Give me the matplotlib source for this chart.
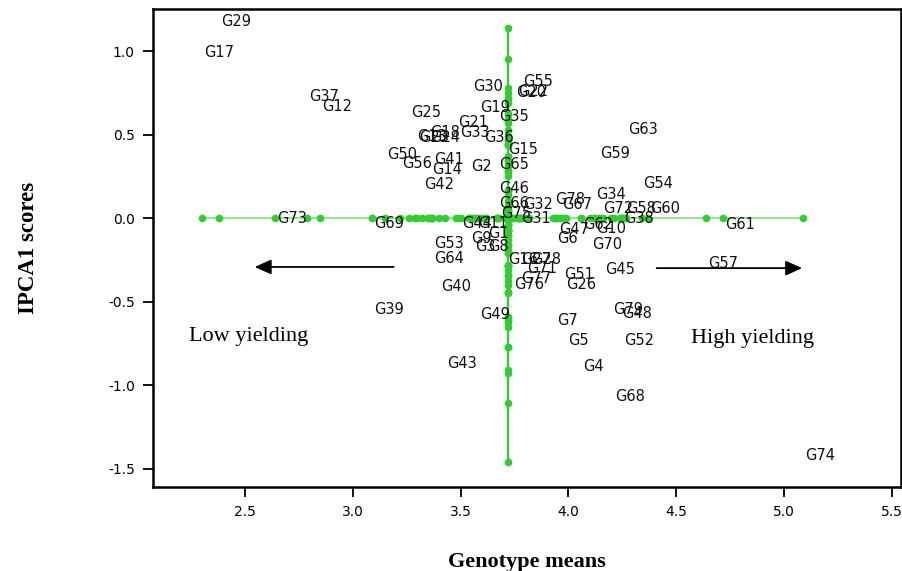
import matplotlib
matplotlib.use("Agg")
import matplotlib.pyplot as plt
import numpy as np

# ---- data -------------------------------------------------------------
genotypes = ["G1", "G2", "G3", "G4", "G5", "G6", "G7", "G8", "G9", "G10",
             "G11", "G12", "G13", "G14", "G15", "G16", "G17", "G18", "G19", "G20",
             "G21", "G22", "G23", "G24", "G25", "G26", "G27", "G28", "G29", "G30",
             "G31", "G32", "G33", "G34", "G35", "G36", "G37", "G38", "G39", "G40",
             "G41", "G42", "G43", "G44", "G45", "G46", "G47", "G48", "G49", "G50",
             "G51", "G52", "G53", "G54", "G55", "G56", "G57", "G58", "G59", "G60",
             "G61", "G62", "G63", "G64", "G65", "G66", "G67", "G68", "G69", "G70",
             "G71", "G72", "G73", "G74", "G75", "G76", "G77", "G78", "G79"]

genotype_means = [3.62, 3.54, 3.56, 4.06, 3.99, 3.94, 3.94, 3.62, 3.54, 4.12,
                  3.57, 2.85, 3.29, 3.36, 3.71, 3.71, 2.30, 3.35, 3.58, 3.75,
                  3.48, 3.76, 3.30, 3.35, 3.26, 3.98, 3.77, 3.82, 2.38, 3.55,
                  3.77, 3.78, 3.49, 4.12, 3.67, 3.60, 2.79, 4.25, 3.09, 3.40,
                  3.37, 3.32, 3.43, 3.50, 4.16, 3.67, 3.95, 4.24, 3.58, 3.15,
                  3.97, 4.25, 3.37, 4.34, 3.78, 3.22, 4.64, 4.26, 4.14, 4.37,
                  4.72, 4.06, 4.27, 3.37, 3.67, 3.67, 3.96, 4.21, 3.09, 4.10,
                  3.80, 4.15, 2.64, 5.09, 3.68, 3.74, 3.77, 3.93, 4.20]

ipca1_scores = [-0.13, 0.27, -0.21, -0.93, -0.77, -0.16, -0.65, -0.21, -0.16, -0.10,
                -0.07, 0.63, 0.45, 0.25, 0.37, -0.29, 0.95, 0.47, 0.62, 0.71,
                0.53, 0.72, 0.44, 0.44, 0.59, -0.44, -0.29, -0.29, 1.14, 0.75,
                -0.04, 0.04, 0.47, 0.10, 0.57, 0.44, 0.69, -0.04, -0.59, -0.45,
                0.31, 0.16, -0.91, -0.07, -0.35, 0.14, -0.11, -0.61, -0.62, 0.34,
                -0.38, -0.77, -0.19, 0.17, 0.78, 0.29, -0.31, 0.02, 0.35, 0.02,
                -0.08, -0.08, 0.49, -0.28, 0.28, 0.05, 0.04, -1.11, -0.07, -0.20,
                -0.34, 0.02, -0.04, -1.46, -0.01, -0.44, -0.40, 0.07, -0.59]

grand_mean = 3.72

x_ticks = [2.5, 3.0, 3.5, 4.0, 4.5, 5.0, 5.5]
y_ticks = [1.0, 0.5, 0.0, -0.5, -1.0, -1.5]

# ---- figure -----------------------------------------------------------
x = np.array(genotype_means)
y = np.array(ipca1_scores)

fig = plt.figure(figsize=(9.03, 5.71), dpi=100)
ax = fig.add_axes([0.1694, 0.147, 0.8284, 0.837])

green = "#33cc33"
light_green = "#80e080"

# horizontal reference line with genotype means projected
ax.plot([x.min(), x.max()], [0, 0], color=light_green, lw=1.2, zorder=1)
ax.plot(x, np.zeros_like(x), "o", color=green, ms=4.5, mec=green, zorder=2)
# vertical reference line at grand mean with scores projected
ax.plot([grand_mean, grand_mean], [y.min(), y.max()], color=green, lw=1.6, zorder=1)
ax.plot(np.full_like(y, grand_mean), y, "o", color=green, ms=4.5, mec=green, zorder=2)

for name, xi, yi in zip(genotypes, x, y):
    ax.annotate(name, (xi, yi), xytext=(1.5, 1.5), textcoords="offset points",
                ha="left", va="baseline", fontsize=10.5,
                family="DejaVu Sans", color="#111111", zorder=3)

# arrows
ax.annotate("", xy=(2.545, -0.293), xytext=(3.19, -0.293),
            arrowprops=dict(arrowstyle="-|>,head_length=1.0,head_width=0.45",
                            color="black", lw=1.3, shrinkA=0, shrinkB=0))
ax.annotate("", xy=(5.085, -0.30), xytext=(4.41, -0.30),
            arrowprops=dict(arrowstyle="-|>,head_length=1.0,head_width=0.45",
                            color="black", lw=1.3, shrinkA=0, shrinkB=0))

ax.text(2.24, -0.71, "Low yielding", family="Liberation Serif", fontsize=16,
        ha="left", va="center")
ax.text(4.57, -0.72, "High yielding", family="Liberation Serif", fontsize=16,
        ha="left", va="center")

ax.set_xlim(2.073, 5.544)
ax.set_ylim(-1.611, 1.251)
ax.set_xticks(x_ticks)
ax.set_xticklabels([f"{v:.1f}" for v in x_ticks], family="DejaVu Sans", fontsize=10)
ax.set_yticks(y_ticks)
ax.set_yticklabels([f"{v:.1f}" for v in y_ticks], family="DejaVu Sans", fontsize=10)
ax.tick_params(direction="out", length=7, width=1.3, pad=6)

for s in ax.spines.values():
    s.set_linewidth(1.8)
    s.set_color("black")

ax.set_xlabel("Genotype means", family="Liberation Serif", fontweight="bold",
              fontsize=16, labelpad=24)
ax.set_ylabel("IPCA1 scores", family="Liberation Serif", fontweight="bold",
              fontsize=16.5, labelpad=50)

fig.savefig("out.png", dpi=100)
